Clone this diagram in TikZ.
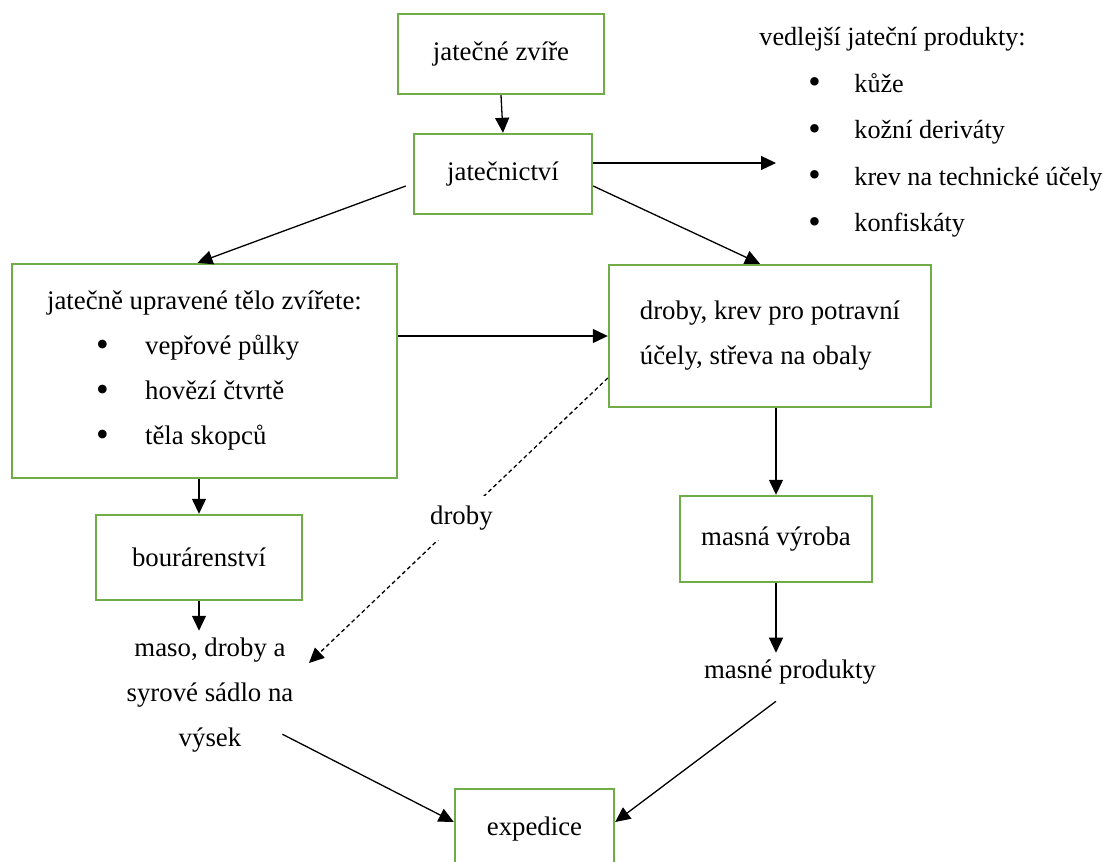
\documentclass[tikz,border=0pt]{standalone}
\usepackage{fontspec}
\setmainfont{Liberation Serif}
\usetikzlibrary{arrows.meta,calc}
\definecolor{boxgreen}{HTML}{70AD47}
\tikzstyle{txt}=[font=\fontsize{13.4}{22.5}\selectfont, text=black]
\tikzstyle{box}=[txt, draw=boxgreen, line width=1.2pt, fill=white]
\tikzstyle{arr}=[draw=black, line width=0.65pt, -{Triangle[length=7.5pt,width=7pt]}]
\newcommand{\bul}[2][23.5pt]{\hspace*{24.5pt}\makebox[#1][l]{\raisebox{-0.7pt}{\scalebox{1.35}{•}}}#2}

\begin{document}
\begin{tikzpicture}[x=0.5pt, y=-0.5pt]
	\clip (0,0) rectangle (1109,862);
	\fill[white] (0,0) rectangle (1109,862);

	% boxes
	\node[box, minimum width=103pt, minimum height=40pt] (zvire) at (501,54) {jatečné zvíře};
	\node[box, minimum width=89pt, minimum height=40pt] (jat) at (503,174) {jatečnictví};
	\node[box, align=left, minimum width=192.5pt, minimum height=107pt] (telo) at (204.5,371)
		{jatečně upravené tělo zvířete:\\\bul[24.5pt]{vepřové půlky}\\\bul[24.5pt]{hovězí čtvrtě}\\\bul[24.5pt]{těla skopců}};
	\node[box, align=left, minimum width=161pt, minimum height=71pt] (drob) at (770,336)
		{droby, krev pro potravní\\účely, střeva na obaly};
	\node[box, minimum width=103pt, minimum height=42.5pt] (bour) at (199,557.5) {bourárenství};
	\node[box, minimum width=96pt, minimum height=43pt] (masna) at (776,539) {masná výroba};
	\node[box, minimum width=79.5pt, minimum height=40pt] (exped) at (534.5,829) {expedice};

	% free texts
	\node[txt, font=\fontsize{13.1}{23.25}\selectfont, align=left, anchor=north west, inner sep=0pt] (vedl) at (759,27)
		{vedlejší jateční produkty:\\\bul[23pt]{kůže}\\\bul[23pt]{kožní deriváty}\\\bul[23pt]{krev na technické účely}\\\bul[23pt]{konfiskáty}};
	\node[txt, align=center] (maso) at (210,695) {maso, droby a\\syrové sádlo na\\výsek};
	\node[txt] (prod) at (790,672) {masné produkty};

	\coordinate (vedlIn) at (776,163);
	\coordinate (masoIn) at (309,663);

	% connectors
	\draw[arr] (zvire.south) -- (jat.north);
	\draw[arr] ([yshift=5.5pt]jat.east) -- (vedlIn);
	\draw[arr] ([xshift=-3.5pt,yshift=-6pt]jat.west) -- ([xshift=-3.5pt]telo.north);
	\draw[arr] ([yshift=-6pt]jat.east) -- ([xshift=-5pt]drob.north);
	\draw[arr] (telo.east |- drob.west) -- (drob.west);
	\draw[arr, dash pattern=on 2pt off 1.5pt] ([yshift=-21pt]drob.west) --
		node[txt, fill=white, pos=0.49, minimum height=22pt] (drlbl) {droby} (masoIn);
	\draw[arr] (bour.north |- telo.south) -- (bour.north);
	\draw[arr] (bour.south) -- (bour.south |- maso.north);
	\draw[arr] (masna.north |- drob.south) -- (masna.north);
	\draw[arr] (masna.south) -- (masna.south |- prod.north);
	\draw[arr] ([xshift=-9pt,yshift=12.5pt]maso.south east) -- ([yshift=3.5pt]exped.west);
	\draw[arr] ([xshift=-7pt,yshift=-5pt]prod.south) -- ([yshift=3.5pt]exped.east);
\end{tikzpicture}
\end{document}
